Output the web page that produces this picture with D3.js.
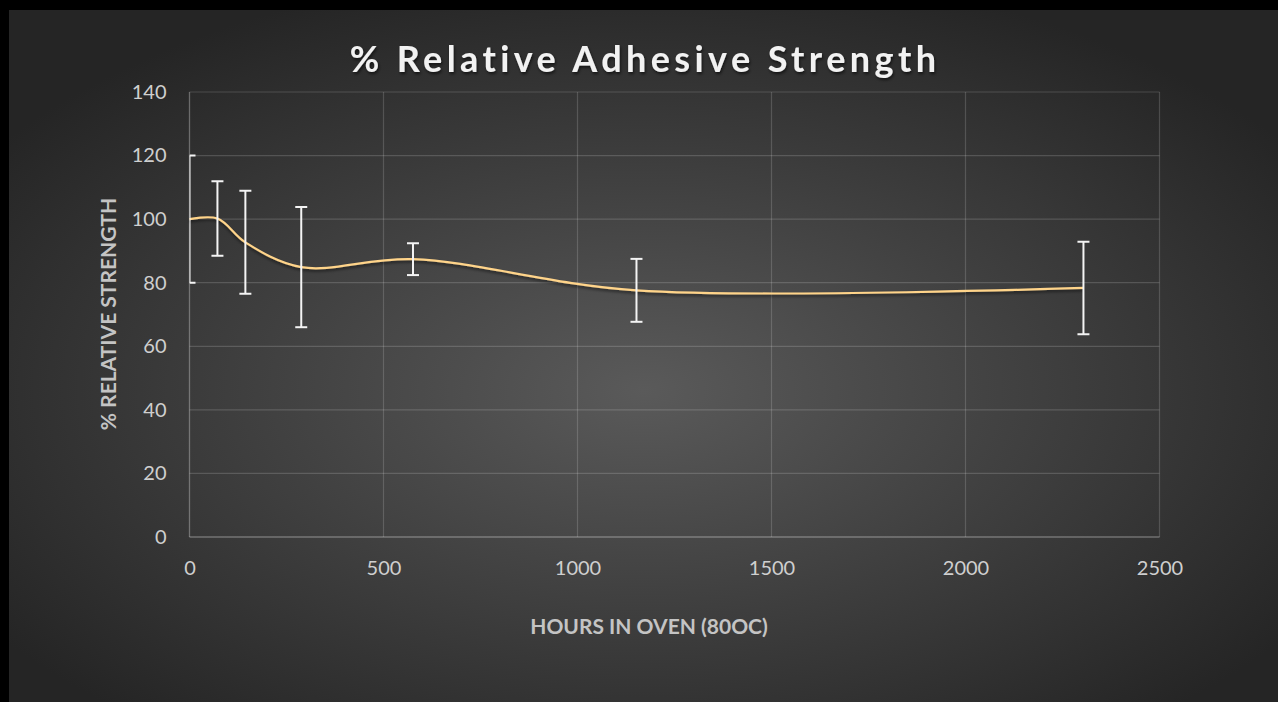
<!DOCTYPE html>
<html><head><meta charset="utf-8">
<script src="https://cdn.jsdelivr.net/npm/d3@7"></script>
<style>html,body{margin:0;padding:0;background:#000;overflow:hidden}svg{display:block}</style>
</head><body>
<svg id="chart" width="1278" height="702"></svg>
<script>
const hours = [0, 72, 144, 288, 576, 1152, 2304];
const strength = [100, 100.2, 92.7, 84.9, 87.4, 77.6, 78.35];
const errorAmt = [20, 11.7, 16.2, 18.9, 5.0, 9.9, 14.55];
const xTicks = [0, 500, 1000, 1500, 2000, 2500];
const yTicks = [0, 20, 40, 60, 80, 100, 120, 140];
const titleText = "% Relative Adhesive Strength";
const xTitle = "HOURS IN OVEN (80OC)";
const yTitle = "% RELATIVE STRENGTH";

(function(){
const W = 1278, H = 702;
const svg = d3.select("#chart");
const defs = svg.append("defs");
const rg = defs.append("radialGradient").attr("id","bg")
  .attr("cx","50%").attr("cy","55%").attr("r","62%");
rg.append("stop").attr("offset","0%").attr("stop-color","#5a5a5a");
rg.append("stop").attr("offset","100%").attr("stop-color","#252525");
const sh = defs.append("filter").attr("id","sh").attr("x","-10%").attr("y","-50%").attr("width","120%").attr("height","200%");
sh.append("feDropShadow").attr("dx",0).attr("dy",2).attr("stdDeviation",1.6).attr("flood-color","#000").attr("flood-opacity",0.55);
const tsh = defs.append("filter").attr("id","tsh");
tsh.append("feDropShadow").attr("dx",1).attr("dy",2).attr("stdDeviation",1.5).attr("flood-color","#000").attr("flood-opacity",0.6);

svg.append("rect").attr("width",W).attr("height",H).attr("fill","#000");
svg.append("rect").attr("x",9).attr("y",10).attr("width",W-9).attr("height",H-10).attr("fill","url(#bg)");

const pl = 189.5, pr = 1159.5, pt = 92, pb = 537;
const x = d3.scaleLinear().domain([0,2500]).range([pl,pr]);
const y = d3.scaleLinear().domain([0,140]).range([pb,pt]);

defs.append("clipPath").attr("id","plotclip").append("rect")
  .attr("x",pl).attr("y",pt-10).attr("width",pr-pl+10).attr("height",pb-pt+20);

const grid = svg.append("g");
grid.selectAll(".hg").data(yTicks.filter(d=>d>0)).join("line")
  .attr("x1",pl).attr("x2",pr).attr("y1",d=>y(d)).attr("y2",d=>y(d))
  .attr("stroke","rgba(255,255,255,0.16)").attr("stroke-width",1.2);
grid.selectAll(".vg").data(xTicks.filter(d=>d>0)).join("line")
  .attr("y1",pt).attr("y2",pb).attr("x1",d=>x(d)).attr("x2",d=>x(d))
  .attr("stroke","rgba(255,255,255,0.16)").attr("stroke-width",1.2);
svg.append("line").attr("x1",pl).attr("x2",pr).attr("y1",y(0)).attr("y2",y(0))
  .attr("stroke","rgba(255,255,255,0.3)").attr("stroke-width",1.3);
svg.append("line").attr("x1",pl).attr("x2",pl).attr("y1",pt).attr("y2",pb)
  .attr("stroke","rgba(255,255,255,0.3)").attr("stroke-width",1.3);

const xAxis = d3.axisBottom(x).tickValues(xTicks).tickSize(0).tickPadding(38).tickFormat(d3.format("d"));
const gx = svg.append("g").attr("transform",`translate(0,${pb})`).call(xAxis);
const yAxis = d3.axisLeft(y).tickValues(yTicks).tickSize(0).tickPadding(23).tickFormat(d3.format("d"));
const gy = svg.append("g").attr("transform",`translate(${pl},0)`).call(yAxis);
[gx,gy].forEach(g=>{
  g.select(".domain").remove();
  g.selectAll("text").attr("fill","#cfcfcf").attr("font-family","Lato").attr("font-size",20);
});
gx.selectAll("text").attr("dy","0em");

const line = d3.line().x((d,i)=>x(hours[i])).y(d=>y(d)).curve(d3.curveCatmullRom.alpha(0.5));
svg.append("path").datum(strength).attr("d",line)
  .attr("fill","none").attr("stroke","#ffd48a").attr("stroke-width",2.2).attr("filter","url(#sh)");

const eb = svg.append("g").attr("clip-path","url(#plotclip)").attr("stroke","#f4f4f4").attr("stroke-width",2);
const cap = 6;
hours.forEach((h,i)=>{
  const cx = x(h), y1 = y(strength[i]+errorAmt[i]), y2 = y(strength[i]-errorAmt[i]);
  eb.append("line").attr("x1",cx).attr("x2",cx).attr("y1",y1).attr("y2",y2);
  eb.append("line").attr("x1",Math.max(cx-cap,pl)).attr("x2",cx+cap).attr("y1",y1).attr("y2",y1);
  eb.append("line").attr("x1",Math.max(cx-cap,pl)).attr("x2",cx+cap).attr("y1",y2).attr("y2",y2);
});

svg.append("text").attr("x",645).attr("y",72).attr("text-anchor","middle")
  .attr("font-family","Lato").attr("font-weight","bold").attr("font-size",36)
  .attr("letter-spacing",4.4).attr("fill","#f2f2f2").attr("filter","url(#tsh)").text(titleText);
svg.append("text").attr("x",649).attr("y",634).attr("text-anchor","middle")
  .attr("font-family","Lato").attr("font-weight","bold").attr("font-size",21)
  .attr("fill","#c4c4c4").text(xTitle);
svg.append("text").attr("transform","translate(116,314) rotate(-90)").attr("text-anchor","middle")
  .attr("font-family","Lato").attr("font-weight","bold").attr("font-size",21)
  .attr("fill","#c4c4c4").text(yTitle);
})();
</script>
</body></html>
